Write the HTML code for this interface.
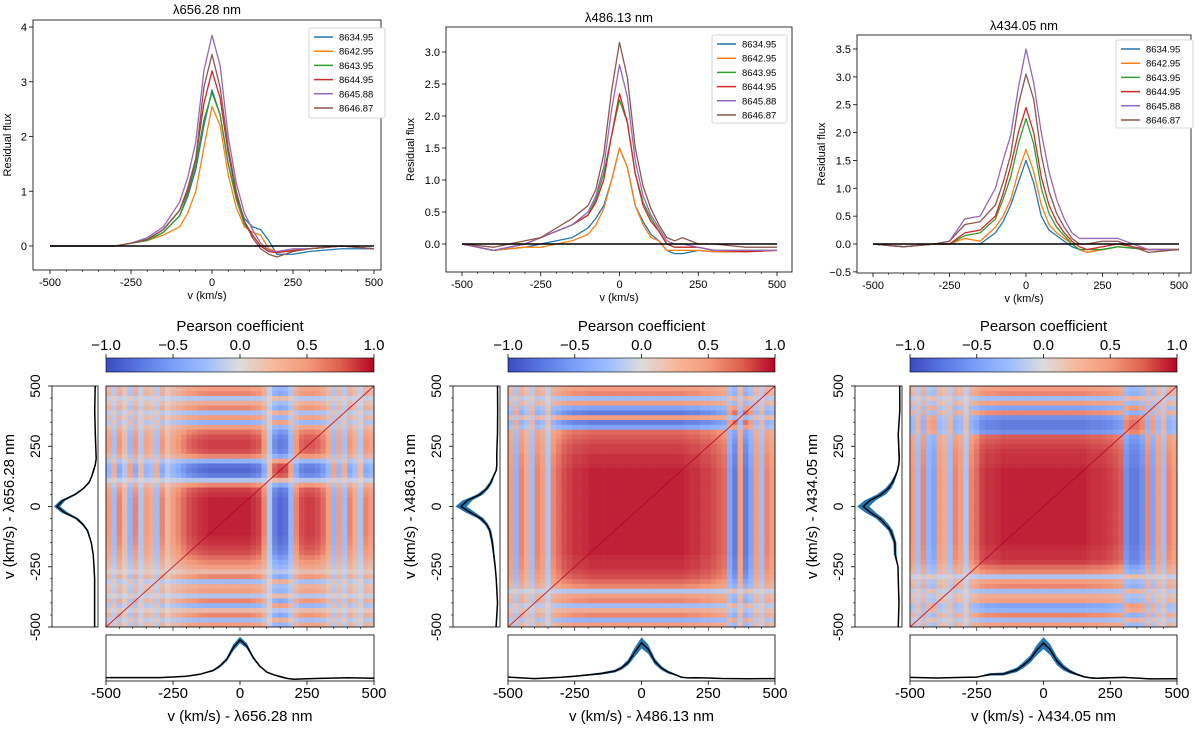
<!DOCTYPE html>
<html><head><meta charset="utf-8"><style>
html,body{margin:0;padding:0;background:#fff;}
svg{display:block;font-family:"Liberation Sans","DejaVu Sans",sans-serif;}
</style></head><body>
<svg id="fig" width="1200" height="733" viewBox="0 0 1200 733" xmlns="http://www.w3.org/2000/svg">
<defs>
<linearGradient id="cw" x1="0" x2="1" y1="0" y2="0">
<stop offset="0" stop-color="#3b4cc0"/><stop offset="0.125" stop-color="#5977e3"/><stop offset="0.25" stop-color="#7b9ff9"/><stop offset="0.375" stop-color="#9ebeff"/><stop offset="0.5" stop-color="#dddcdc"/><stop offset="0.625" stop-color="#f7b89c"/><stop offset="0.75" stop-color="#f49a7b"/><stop offset="0.875" stop-color="#de604d"/><stop offset="1" stop-color="#b40426"/>
</linearGradient>
</defs>
</svg>
<script>
// ---- data ----
const velocityKnots=[-500,-400,-300,-250,-200,-150,-100,-75,-50,-25,0,25,50,75,100,125,150,175,200,250,300,400,500];
const epochs=["8634.95","8642.95","8643.95","8644.95","8645.88","8646.87"];
const lineNames=["λ656.28 nm","λ486.13 nm","λ434.05 nm"];
const xTicks=[-500,-250,0,250,500];
const haSeries=[
[0,0,0,0.05,0.1,0.25,0.55,0.9,1.4,2.2,2.85,2.4,1.5,0.9,0.5,0.35,0.3,0.1,-0.15,-0.15,-0.1,-0.05,-0.05],
[0,0,0,0.05,0.1,0.2,0.35,0.6,1.0,1.8,2.55,2.2,1.3,0.7,0.35,0.25,0.2,-0.05,-0.1,-0.1,-0.05,0,-0.05],
[0,0,0,0.05,0.1,0.25,0.55,0.95,1.5,2.3,2.8,2.4,1.5,0.85,0.4,0.2,0,-0.1,-0.12,-0.08,-0.05,0,-0.05],
[0,0,0,0.05,0.12,0.3,0.65,1.05,1.6,2.6,3.2,2.7,1.7,0.95,0.45,0.2,0,-0.1,-0.12,-0.08,-0.05,0,-0.05],
[0,0,0,0.05,0.15,0.35,0.8,1.25,1.9,3.2,3.85,3.3,2.0,1.15,0.6,0.3,0.05,-0.08,-0.1,-0.05,-0.05,0,-0.05],
[0,0,0,0.05,0.12,0.3,0.65,1.0,1.6,2.9,3.5,2.9,1.8,1.0,0.45,0.15,-0.05,-0.15,-0.2,-0.1,-0.05,0,-0.05]];
const hbSeries=[
[0,-0.1,-0.05,0,0.05,0.1,0.25,0.4,0.6,1.0,1.5,1.2,0.6,0.35,0.15,0.05,-0.1,-0.15,-0.15,-0.1,-0.12,-0.12,-0.1],
[0,-0.1,-0.05,-0.05,0,0.05,0.15,0.3,0.55,1.0,1.5,1.2,0.6,0.3,0.1,0.05,-0.1,-0.1,-0.1,-0.1,-0.12,-0.12,-0.1],
[0,-0.1,0,0.1,0.2,0.3,0.45,0.7,1.1,1.7,2.25,1.9,1.1,0.65,0.4,0.2,0,-0.05,-0.05,-0.05,-0.1,-0.1,-0.1],
[0,-0.1,0,0.1,0.2,0.3,0.45,0.65,1.0,1.7,2.35,1.9,1.1,0.6,0.35,0.2,0,-0.05,-0.05,-0.05,-0.1,-0.12,-0.1],
[0,-0.1,0,0.1,0.2,0.3,0.5,0.75,1.2,2.1,2.8,2.3,1.3,0.75,0.45,0.25,0.05,0,0,-0.05,-0.1,-0.1,-0.1],
[0,-0.05,0.05,0.1,0.25,0.4,0.6,0.85,1.4,2.4,3.15,2.6,1.5,0.9,0.55,0.3,0.1,0.05,0.1,0,0,-0.05,-0.05]];
const hgSeries=[
[0,-0.05,0,0,0,0,0.2,0.4,0.7,1.1,1.5,1.1,0.5,0.25,0.15,0.05,-0.05,-0.1,-0.15,-0.1,-0.05,-0.1,-0.1],
[0,-0.05,0,0,0.1,0.05,0.3,0.5,0.8,1.3,1.7,1.3,0.7,0.35,0.2,0.1,0,-0.1,-0.15,-0.1,-0.05,-0.1,-0.1],
[0,-0.05,0,0,0.15,0.2,0.45,0.8,1.2,1.8,2.25,1.8,1.0,0.55,0.3,0.15,0,-0.1,-0.1,-0.1,-0.05,-0.1,-0.1],
[0,-0.05,0,0,0.2,0.25,0.5,0.9,1.4,2.0,2.45,2.0,1.2,0.7,0.4,0.2,0.05,-0.05,-0.1,-0.05,0,-0.1,-0.1],
[0,-0.05,0,0.05,0.45,0.5,1.0,1.5,1.95,2.8,3.5,2.9,2.0,1.3,0.8,0.45,0.2,0.1,0.1,0.1,0.1,-0.1,-0.1],
[0,-0.05,0,0.05,0.35,0.4,0.7,1.1,1.6,2.5,3.05,2.6,1.6,0.95,0.55,0.3,0.1,0,0,0.05,0.05,-0.15,-0.1]];
// per-bin correlation loadings (50 bins of 20 km/s from -500 to 500)
const haLoad=[0.5,-0.4,0.6,0.3,-0.5,0.6,-0.3,0.5,0.4,-0.4,0.6,0.3,0.5,0.6,0.7,0.8,0.85,0.9,0.92,0.95,0.95,0.95,0.95,0.95,0.95,0.95,0.95,0.9,0.85,0.6,-0.3,-0.8,-0.9,-0.85,-0.5,0.6,0.8,0.85,0.85,0.8,0.7,0.5,-0.5,0.5,-0.4,0.6,0.4,-0.3,0.6,0.5];
const hbLoad=[0.5,-0.5,0.6,0.4,-0.4,0.6,0.5,-0.3,0.6,0.7,0.8,0.85,0.9,0.9,0.92,0.95,0.95,0.95,0.95,0.95,0.95,0.95,0.95,0.95,0.95,0.95,0.95,0.95,0.95,0.95,0.95,0.95,0.95,0.92,0.9,0.9,0.85,0.85,0.8,0.75,0.7,-0.6,-0.8,0.5,-0.8,-0.6,0.5,-0.4,0.6,0.5];
const hgLoad=[0.5,-0.4,0.6,-0.5,-0.6,0.5,0.4,-0.4,0.6,0.5,-0.3,0.6,0.7,0.85,0.9,0.9,0.92,0.95,0.95,0.95,0.95,0.95,0.95,0.95,0.95,0.95,0.95,0.95,0.95,0.95,0.95,0.95,0.95,0.92,0.9,0.9,0.88,0.85,0.8,0.75,-0.7,-0.8,-0.8,-0.7,0.6,-0.6,0.5,-0.4,0.6,0.5];
const cbTicks=[-1.0,-0.5,0.0,0.5,1.0];
const haYTicks=[0,1,2,3,4];
const hbYTicks=[0.0,0.5,1.0,1.5,2.0,2.5,3.0];
const hgYTicks=[-0.5,0.0,0.5,1.0,1.5,2.0,2.5,3.0,3.5];

const colors=["#1f77b4","#ff7f0e","#2ca02c","#d62728","#9467bd","#8c564b"];
const NS="http://www.w3.org/2000/svg";
const svg=document.getElementById('fig');
function mk(tag,attrs,parent){const e=document.createElementNS(NS,tag);for(const k in attrs)e.setAttribute(k,attrs[k]);(parent||svg).appendChild(e);return e;}
function txt(s,x,y,size,anchor,parent,rot){const t=mk('text',{x:x,y:y,'font-size':size,'text-anchor':anchor||'middle',fill:'#000'},parent);if(rot)t.setAttribute('transform',`rotate(${rot} ${x} ${y})`);t.textContent=s;return t;}
function fmt(v,d){return (v<0?'−':'')+Math.abs(v).toFixed(d);}

const cols=[
 {series:haSeries,load:haLoad,yt:haYTicks,yd:0,fx0:33,fx1:381,fy0:20,fy1:270,vx0:50,vx1:374,ya:246,yb:27,va:0,vb:4,titleY:14,
  leg:[309,28,76,90],hx0:106,hx1:374,lx0:52,lx1:98,tickX:40,labX:14},
 {series:hbSeries,load:hbLoad,yt:hbYTicks,yd:1,fx0:446,fx1:792,fy0:27,fy1:272,vx0:462,vx1:777,ya:244,yb:52,va:0,vb:3,titleY:22,
  leg:[712,35,75,88],hx0:508,hx1:775,lx0:453,lx1:500,tickX:441,labX:415},
 {series:hgSeries,load:hgLoad,yt:hgYTicks,yd:1,fx0:857,fx1:1191,fy0:35,fy1:273,vx0:873,vx1:1179,ya:244,yb:49,va:0,vb:3.5,titleY:30,
  leg:[1116,40,77,88],hx0:910,hx1:1177,lx0:855,lx1:902,tickX:843,labX:817}];

function cw(c){const st=[[-1,[59,76,192]],[-0.5,[141,176,254]],[0,[221,220,220]],[0.5,[244,154,123]],[1,[180,4,38]]];
 c=Math.max(-1,Math.min(1,c));for(let i=0;i<st.length-1;i++){if(c<=st[i+1][0]){const t=(c-st[i][0])/(st[i+1][0]-st[i][0]);const a=st[i][1],b=st[i+1][1];return `rgb(${a.map((v,j)=>Math.round(v+(b[j]-v)*t)).join(',')})`;}}return 'rgb(180,4,38)';}

cols.forEach((c,ci)=>{
 const g=mk('g',{});
 
 
 const X=v=>c.vx0+(v+500)/1000*(c.vx1-c.vx0);
 const Y=f=>c.ya+(f-c.va)/(c.vb-c.va)*(c.yb-c.ya);
 const t=txt(lineNames[ci],(c.fx0+c.fx1)/2,c.titleY,13,'middle',g);
 
 xTicks.forEach(v=>{mk('line',{x1:X(v),x2:X(v),y1:c.fy1,y2:c.fy1+4,stroke:'#000','stroke-width':0.8},g);
  const l=txt(v,X(v),c.fy1+16,11,'middle',g);});
 for(let v=-450;v<=450;v+=50){if(v%250)mk('line',{x1:X(v),x2:X(v),y1:c.fy1,y2:c.fy1+2,stroke:'#000','stroke-width':0.6},g);}
 c.yt.forEach(v=>{mk('line',{x1:c.fx0-4,x2:c.fx0,y1:Y(v),y2:Y(v),stroke:'#000','stroke-width':0.8},g);
  const l=txt(fmt(v,c.yd),c.fx0-6,Y(v)+4,11,'end',g);});
 const xl=txt('v (km/s)',(c.fx0+c.fx1)/2,c.fy1+29,11,'middle',g);
 const yx=c.fx0-(ci==0?22:32),yy=(c.fy0+c.fy1)/2;
 const yl=txt('Residual flux',yx,yy,11,'middle',g,-90);
 c.series.forEach((s,si)=>{const p=mk('polyline',{points:s.map((f,i)=>X(velocityKnots[i])+','+Y(f)).join(' '),fill:'none',stroke:colors[si],'stroke-width':1.3,'stroke-linejoin':'round'},g);
  });
 mk('line',{x1:X(-500),x2:X(500),y1:Y(0),y2:Y(0),stroke:'#000','stroke-width':1.4},g);
 mk('rect',{x:c.fx0,y:c.fy0,width:c.fx1-c.fx0,height:c.fy1-c.fy0,fill:'none',stroke:'#000','stroke-width':0.8},g);
 const L=c.leg;const lg=mk('g',{},g);
 mk('rect',{x:L[0],y:L[1],width:L[2],height:L[3],fill:'#fff',stroke:'#ccc','stroke-width':0.8,rx:2},lg);
 epochs.forEach((e,si)=>{const yy=L[1]+9+si*14.2;
  const en=mk('g',{},lg);
  mk('line',{x1:L[0]+5,x2:L[0]+24,y1:yy,y2:yy,stroke:colors[si],'stroke-width':1.5},en);
  txt(e,L[0]+30,yy+3.5,9.5,'start',en);});

 // ---- bottom row ----
 const bg=mk('g',{});
 const HX=v=>c.hx0+(v+500)/1000*(c.hx1-c.hx0);
 const hy0=386,hy1=627;
 const HY=v=>hy1-(v+500)/1000*(hy1-hy0);
 const cb=mk('rect',{x:c.hx0,y:358,width:c.hx1-c.hx0,height:14,fill:'url(#cw)',stroke:'#000','stroke-width':0.6},bg);
 
 const ct=txt('Pearson coefficient',(c.hx0+c.hx1)/2,331,15,'middle',bg);
 cbTicks.forEach(v=>{const x=c.hx0+(v+1)/2*(c.hx1-c.hx0);mk('line',{x1:x,x2:x,y1:354,y2:358,stroke:'#000','stroke-width':0.8},bg);
  const l=txt(fmt(v,1),x,350,15,'middle',bg);});
 const n=c.load.length,bw=(c.hx1-c.hx0)/n,bh=(hy1-hy0)/n;
 const hm=mk('g',{},bg);
 for(let i=0;i<n;i++)for(let j=0;j<n;j++){const v=c.load[i]*c.load[j];
  mk('rect',{x:(c.hx0+i*bw).toFixed(2),y:(hy1-(j+1)*bh).toFixed(2),width:(bw+0.3).toFixed(2),height:(bh+0.3).toFixed(2),fill:cw(v)},hm);}
 const dg=mk('line',{x1:HX(-500),y1:HY(-500),x2:HX(500),y2:HY(500),stroke:cw(1),'stroke-width':1,opacity:0.8},hm);
 
 mk('rect',{x:c.hx0,y:hy0,width:c.hx1-c.hx0,height:hy1-hy0,fill:'none',stroke:'#000','stroke-width':0.8},bg);
 for(let v=-450;v<=450;v+=50){mk('line',{x1:HX(v),x2:HX(v),y1:hy1,y2:hy1+(v%250?2:4),stroke:'#000','stroke-width':0.6},bg);}
 const mean=velocityKnots.map((_,k)=>c.series.reduce((a,s)=>a+s[k],0)/c.series.length);
 const sd=velocityKnots.map((_,k)=>Math.sqrt(c.series.reduce((a,s)=>a+(s[k]-mean[k])**2,0)/c.series.length));
 const lo=Math.min(...mean)-0.15, hi=Math.max(...mean.map((m,k)=>m+0.6*sd[k]))+0.15;
 const lp=mk('g',{},bg);
 const LX=f=>c.lx1-(f-lo)/(hi-lo)*(c.lx1-c.lx0);
 const band1=velocityKnots.map((v,k)=>LX(mean[k]+0.6*sd[k])+','+HY(v)).concat(velocityKnots.map((v,k)=>LX(mean[k]-0.6*sd[k])+','+HY(v)).reverse());
 mk('polygon',{points:band1.join(' '),fill:'#1f77b4'},lp);
 mk('polyline',{points:velocityKnots.map((v,k)=>LX(mean[k])+','+HY(v)).join(' '),fill:'none',stroke:'#000','stroke-width':1.5},lp);
 mk('rect',{x:c.lx0,y:hy0,width:c.lx1-c.lx0,height:hy1-hy0,fill:'none',stroke:'#000','stroke-width':0.8},lp);
 xTicks.forEach(v=>{mk('line',{x1:c.lx0-4,x2:c.lx0,y1:HY(v),y2:HY(v),stroke:'#000','stroke-width':0.8},lp);
  const l=txt(v,c.tickX,HY(v),14,'middle',lp,-90);});
 for(let v=-450;v<=450;v+=50){if(v%250)mk('line',{x1:c.lx0-2,x2:c.lx0,y1:HY(v),y2:HY(v),stroke:'#000','stroke-width':0.6},lp);}
 const ylb=txt('v (km/s) - '+lineNames[ci],c.labX,(hy0+hy1)/2,15,'middle',bg,-90);
 const bp=mk('g',{},bg);
 const by0=635,by1=681;const BY=f=>by1-(f-lo)/(hi-lo)*(by1-by0);
 const band2=velocityKnots.map((v,k)=>HX(v)+','+BY(mean[k]+0.6*sd[k])).concat(velocityKnots.map((v,k)=>HX(v)+','+BY(mean[k]-0.6*sd[k])).reverse());
 mk('polygon',{points:band2.join(' '),fill:'#1f77b4'},bp);
 mk('polyline',{points:velocityKnots.map((v,k)=>HX(v)+','+BY(mean[k])).join(' '),fill:'none',stroke:'#000','stroke-width':1.5},bp);
 mk('rect',{x:c.hx0,y:by0,width:c.hx1-c.hx0,height:by1-by0,fill:'none',stroke:'#000','stroke-width':0.8},bp);
 xTicks.forEach(v=>{mk('line',{x1:HX(v),x2:HX(v),y1:by1,y2:by1+4,stroke:'#000','stroke-width':0.8},bp);
  const l=txt(v,HX(v),698,15,'middle',bp);});
 const xlb=txt('v (km/s) - '+lineNames[ci],(c.hx0+c.hx1)/2,721,15,'middle',bg);
});
</script>
</body></html>
